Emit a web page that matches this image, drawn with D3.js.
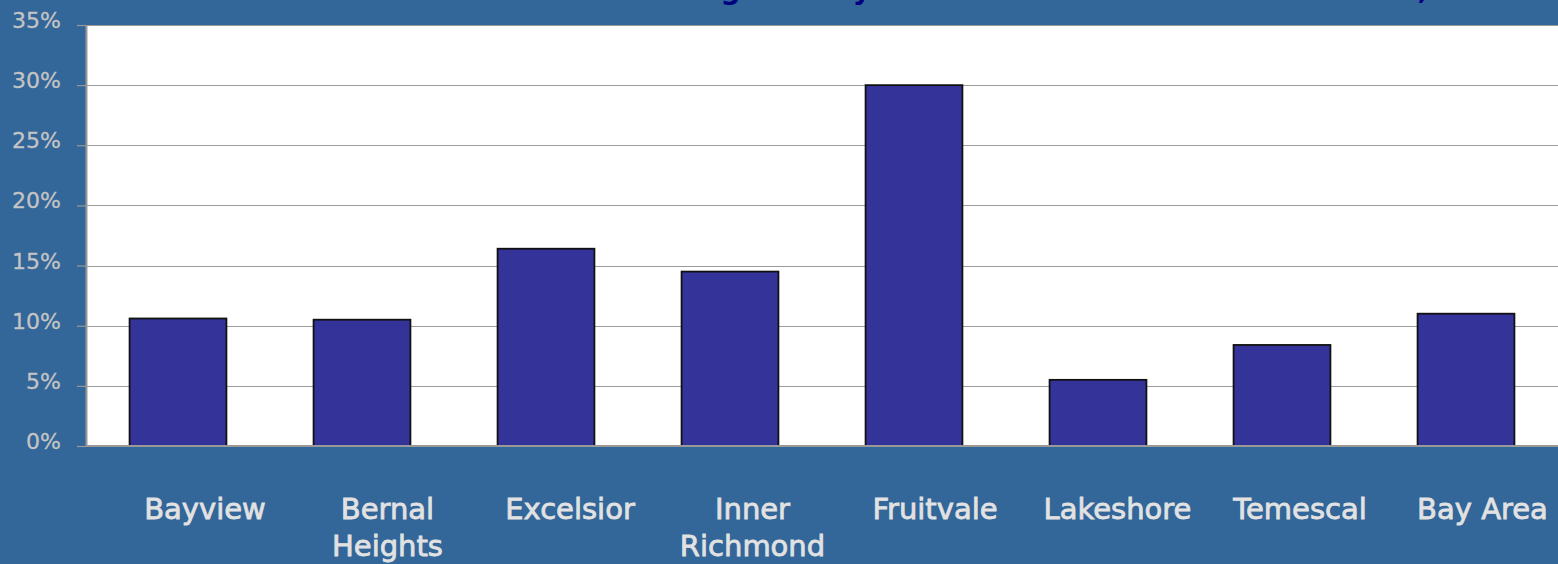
<!DOCTYPE html>
<html>
<head>
<meta charset="utf-8">
<script src="https://cdn.jsdelivr.net/npm/d3@7"></script>
<style>
  html, body { margin: 0; padding: 0; background: #336699; overflow: hidden; }
  svg { display: block; }
</style>
</head>
<body>
<svg id="chart" width="1558" height="564"></svg>
<script>
// Overcrowding share by area (fraction of housing units)
const categories = ["Bayview", "Bernal Heights", "Excelsior", "Inner Richmond",
                    "Fruitvale", "Lakeshore", "Temescal", "Bay Area"];
const categoryLines = [["Bayview"], ["Bernal", "Heights"], ["Excelsior"], ["Inner", "Richmond"],
                       ["Fruitvale"], ["Lakeshore"], ["Temescal"], ["Bay Area"]];
const values = [0.106, 0.105, 0.164, 0.145, 0.300, 0.055, 0.084, 0.110];
const yTicks = [0, 0.05, 0.10, 0.15, 0.20, 0.25, 0.30, 0.35];
const titleText = "Overcrowding Rate by Selected Oakland and SF Districts, 2000";

const W = 1558, H = 564;
const plot = { left: 86, right: 1558, top: 25, bottom: 446 };

const svg = d3.select("#chart");

// page background
svg.append("rect").attr("width", W).attr("height", H).attr("fill", "#336699");

// title (sits mostly above the visible frame)
const title = svg.append("text")
  .attr("x", 0).attr("y", -1.5)
  .attr("font-family", "DejaVu Sans, Verdana, sans-serif")
  .attr("font-weight", "bold")
  .attr("font-size", 28)
  .attr("fill", "#000080")
  .text(titleText);
// place the title so the "y" of "by" falls at x = 862
(function () {
  const idx = titleText.indexOf("by") + 1;
  const ext = title.node().getExtentOfChar(idx);
  const cx = ext.x + ext.width / 2;
  title.attr("x", 862 - cx);
})();

// scales
const x = d3.scaleBand().domain(categories).range([plot.left, plot.right]).padding(0);
const y = d3.scaleLinear().domain([0, 0.35]).range([plot.bottom, plot.top]);
const barW = x.bandwidth() / 1.9;   // 90% gap width
const labelX = d3.scalePoint().domain(categories).range([205, 1482.5]);

// plot area
svg.append("rect")
  .attr("x", plot.left).attr("y", plot.top)
  .attr("width", plot.right - plot.left).attr("height", plot.bottom - plot.top)
  .attr("fill", "#ffffff");

// gridlines
svg.append("g").selectAll("line")
  .data(yTicks.filter(d => d > 0))
  .join("line")
  .attr("x1", plot.left).attr("x2", plot.right)
  .attr("y1", d => Math.round(y(d)) + 0.5).attr("y2", d => Math.round(y(d)) + 0.5)
  .attr("stroke", "#9c9c9c").attr("stroke-width", 1.2);

// bars
svg.append("g").selectAll("rect")
  .data(values)
  .join("rect")
  .attr("x", (d, i) => x(categories[i]) + (x.bandwidth() - barW) / 2)
  .attr("y", d => y(d))
  .attr("width", barW)
  .attr("height", d => y(0) - y(d))
  .attr("fill", "#333399")
  .attr("stroke", "#111111")
  .attr("stroke-width", 1.8);

// y axis
const yAxis = svg.append("g")
  .attr("transform", `translate(${plot.left},0)`)
  .call(d3.axisLeft(y).tickValues(yTicks).tickFormat(d3.format(".0%")).tickSize(9).tickPadding(16).tickSizeOuter(0));
yAxis.select(".domain").attr("stroke", "#999999").attr("stroke-width", 2);
yAxis.selectAll(".tick line").attr("stroke", "#999999").attr("stroke-width", 1.2);
yAxis.selectAll(".tick text")
  .attr("dy", 2.5)
  .attr("fill", "#c4c4c4")
  .attr("stroke", "#c4c4c4")
  .attr("stroke-width", 0.3)
  .attr("font-family", "DejaVu Sans, Verdana, sans-serif")
  .attr("font-size", 22);

// baseline
svg.append("line")
  .attr("x1", plot.left).attr("x2", plot.right)
  .attr("y1", y(0)).attr("y2", y(0))
  .attr("stroke", "#999999").attr("stroke-width", 2);

// category labels (medium weight via a thin outline)
const labels = svg.append("g").selectAll("text")
  .data(categories)
  .join("text")
  .attr("text-anchor", "middle")
  .attr("font-family", "DejaVu Sans, Verdana, sans-serif")
  .attr("font-size", 29)
  .attr("fill", "#e2e2e2")
  .attr("stroke", "#e2e2e2")
  .attr("stroke-width", 0.8);
labels.selectAll("tspan")
  .data((d, i) => categoryLines[i].map(t => ({ t, c: d })))
  .join("tspan")
  .attr("x", d => labelX(d.c))
  .attr("y", (d, j) => 519 + j * 37)
  .text(d => d.t);
</script>
</body>
</html>
